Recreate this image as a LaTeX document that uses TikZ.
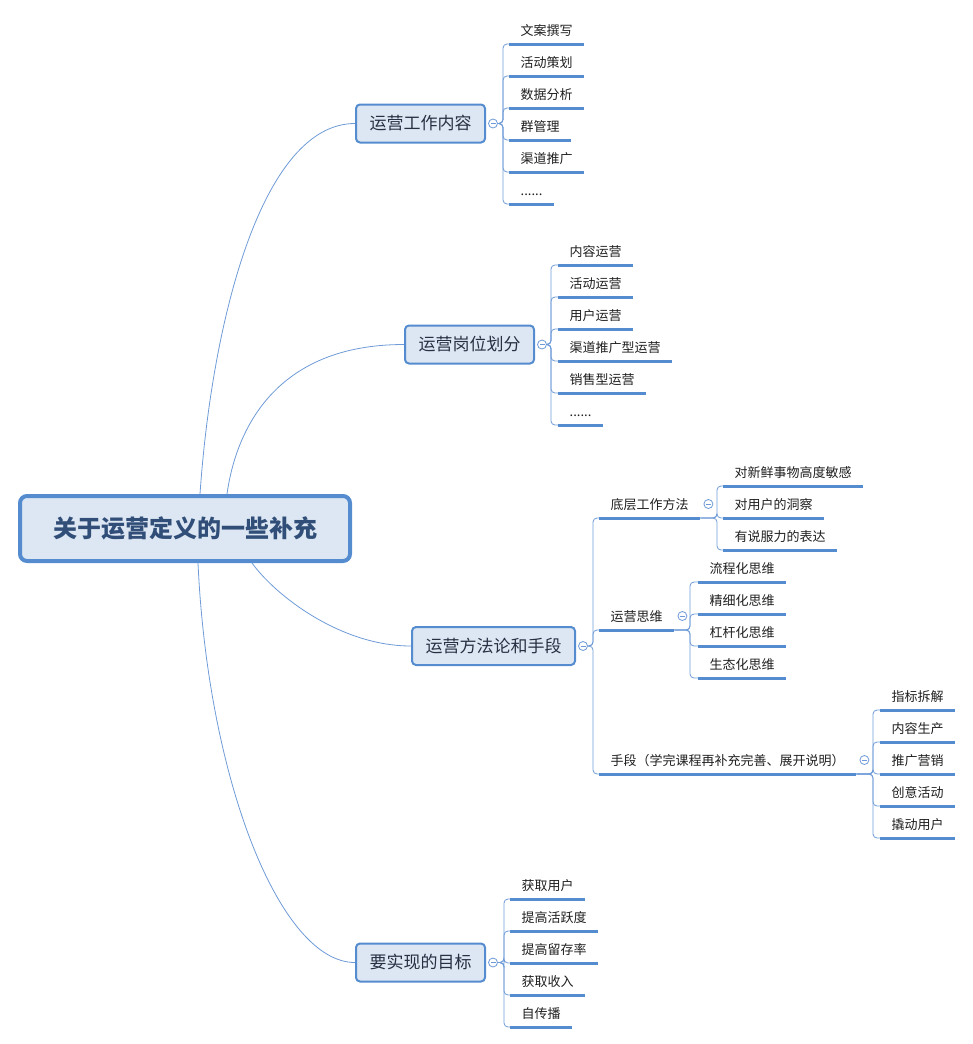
\documentclass[tikz,border=0pt]{standalone}
\usepackage{fontspec}
\setmainfont{Noto Sans CJK SC}
\usetikzlibrary{backgrounds}
\definecolor{linkblue}{RGB}{110,155,215}
\definecolor{lineblue}{RGB}{85,140,208}
\definecolor{boxfill}{RGB}{221,231,243}
\definecolor{roottext}{RGB}{48,78,120}
\definecolor{topictext}{RGB}{38,48,66}
\newcommand\sixdots{......}
\begin{document}
\begin{tikzpicture}[x=1pt,y=-1pt,
  link/.style={linkblue,line width=0.8pt},
  uline/.style={lineblue,line width=3pt},
  root/.style={draw=lineblue,line width=4pt,fill=boxfill,rounded corners=7pt,minimum width=330pt,minimum height=65pt,text=roottext,font=\fontsize{24pt}{28pt}\selectfont\bfseries,text height=20pt,text depth=2pt},
  topic/.style={draw=lineblue,line width=2pt,fill=boxfill,rounded corners=4pt,minimum height=38pt,inner xsep=13.5pt,text=topictext,font=\fontsize{17pt}{20pt}\selectfont,text height=14.5pt,text depth=2pt},
  leaf/.style={anchor=south west,inner xsep=11.5pt,inner ysep=5.5pt,text height=10pt,text depth=2.5pt,font=\fontsize{13pt}{15pt}\selectfont,text=black!88},
  fold/.style={circle,draw=linkblue,fill=white,line width=0.8pt,minimum size=9pt,inner sep=0pt,path picture={\draw[linkblue,line width=0.8pt] ([xshift=-2.5pt]path picture bounding box.center) -- ([xshift=2.5pt]path picture bounding box.center);}}]
\useasboundingbox (0,0) rectangle (973,1044);
\node[root] (root) at (185,528.5) {关于运营定义的一些补充};
\node[topic] (t1) at (420.5,123.5) {运营工作内容};
\node[topic] (t2) at (469.5,344.5) {运营岗位划分};
\node[topic] (t3) at (493.5,646) {运营方法论和手段};
\node[topic] (t4) at (420.5,962.5) {要实现的目标};
\begin{scope}[on background layer]
\draw[link] ([xshift=15pt]root.north) .. controls (212,320) and (262,123.5) .. (t1.west);
\draw[link] ([xshift=42pt]root.north) .. controls (236,430) and (275,344.5) .. (t2.west);
\draw[link] ([xshift=67pt]root.south) .. controls (275,595) and (340,646) .. (t3.west);
\draw[link] ([xshift=13pt]root.south) .. controls (208,780) and (280,962.5) .. (t4.west);
\end{scope}
\node[fold] (f1) at ([xshift=7pt]t1.east) {};
\node[fold] (f2) at ([xshift=7pt]t2.east) {};
\node[fold] (f3) at ([xshift=7pt]t3.east) {};
\node[fold] (f4) at ([xshift=7pt]t4.east) {};
\foreach \txt [count=\i] in {文案撰写,活动策划,数据分析,群管理,渠道推广,\sixdots} {
  \node[leaf] (a\i) at (509,12+32*\i) {\txt};
  \draw[uline] (a\i.south west) -- (a\i.south east);
  \draw[link,rounded corners=4pt] (f1.east) -| ([xshift=-6pt]a\i.south west) -- (a\i.south west);
}
\foreach \txt [count=\i] in {内容运营,活动运营,用户运营,渠道推广型运营,销售型运营,\sixdots} {
  \node[leaf] (b\i) at (558,233+32*\i) {\txt};
  \draw[uline] (b\i.south west) -- (b\i.south east);
  \draw[link,rounded corners=4pt] (f2.east) -| ([xshift=-7pt]b\i.south west) -- (b\i.south west);
}
\foreach \txt [count=\i] in {获取用户,提高活跃度,提高留存率,获取收入,自传播} {
  \node[leaf] (d\i) at (510,867+32*\i) {\txt};
  \draw[uline] (d\i.south west) -- (d\i.south east);
  \draw[link,rounded corners=4pt] (f4.east) -| ([xshift=-6pt]d\i.south west) -- (d\i.south west);
}
\node[leaf] (s1) at (599,518) {底层工作方法};
\node[leaf] (s2) at (599,630) {运营思维};
\node[leaf] (s3) at (599,774) {手段（学完课程再补充完善、展开说明）};
\foreach \s in {s1,s2,s3} {
  \draw[uline] (\s.south west) -- (\s.south east);
  \draw[link,rounded corners=4pt] (f3.east) -| ([xshift=-6pt]\s.south west) -- (\s.south west);
  \node[fold] (f\s) at ([xshift=8pt,yshift=14pt]\s.south east) {};
}
\foreach \txt [count=\i] in {对新鲜事物高度敏感,对用户的洞察,有说服力的表达} {
  \node[leaf] (c\i) at (723,454+32*\i) {\txt};
  \draw[uline] (c\i.south west) -- (c\i.south east);
  \draw[link,rounded corners=4pt] (s1.south east) -| ([xshift=-6pt]c\i.south west) -- (c\i.south west);
}
\foreach \txt [count=\i] in {流程化思维,精细化思维,杠杆化思维,生态化思维} {
  \node[leaf] (e\i) at (698,550+32*\i) {\txt};
  \draw[uline] (e\i.south west) -- (e\i.south east);
  \draw[link,rounded corners=4pt] (s2.south east) -| ([xshift=-8pt]e\i.south west) -- (e\i.south west);
}
\foreach \txt [count=\i] in {指标拆解,内容生产,推广营销,创意活动,撬动用户} {
  \node[leaf] (g\i) at (880,678+32*\i) {\txt};
  \draw[uline] (g\i.south west) -- (g\i.south east);
  \draw[link,rounded corners=4pt] (s3.south east) -| ([xshift=-7pt]g\i.south west) -- (g\i.south west);
}
\end{tikzpicture}
\end{document}
